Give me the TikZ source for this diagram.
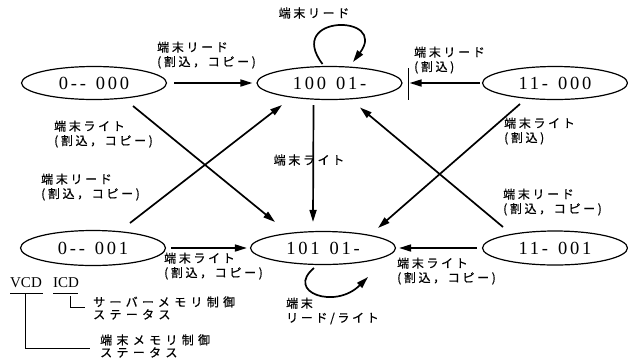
\documentclass[tikz,border=0pt]{standalone}
\usepackage{fontspec}
\setmainfont{Liberation Serif}
\newfontfamily\jpfont[LetterSpace=22,FakeBold=0.6]{Noto Sans CJK JP}
\newfontfamily\jpwfont[LetterSpace=36,FakeBold=0.6]{Noto Sans CJK JP}
\newfontfamily\numfont[LetterSpace=15]{Liberation Serif}
\usetikzlibrary{shapes.geometric,arrows.meta,calc}
\begin{document}
\begin{tikzpicture}[x=1pt,y=-1pt,
  state/.style={ellipse, draw, line width=1.2pt, minimum width=145pt, minimum height=33pt, inner sep=0pt, font=\numfont\fontsize{18.5}{18.5}\selectfont},
  arr/.style={line width=1.7pt, -{Triangle[length=12pt,width=7pt]}},
  lbl/.style={anchor=west, align=left, inner sep=0pt, font=\jpfont\fontsize{12}{14.5}\selectfont},
  legl/.style={anchor=west, align=left, inner sep=0pt, font=\jpwfont\fontsize{12}{12.5}\selectfont},
  legline/.style={line width=1pt},
  legtxt/.style={inner sep=0pt, font=\fontsize{15}{15}\selectfont}
]
\useasboundingbox (0,0) rectangle (628,360);

% states
\node[state] (A) at (94,83) {0--\hspace{10pt}000};
\node[state] (B) at (329.5,83) {100\hspace{10pt}01-};
\node[state] (C) at (555,83) {11-\hspace{10pt}000};
\node[state, minimum height=35pt] (D) at (93,248) {0--\hspace{10pt}001};
\node[state] (E) at (323,248) {101\hspace{10pt}01-};
\node[state, minimum height=34pt] (F) at (555,248) {11-\hspace{10pt}001};

% horizontal arrows
\draw[arr, shorten <=7pt, shorten >=4pt] (A.east) -- (B.west);
\draw[arr, shorten <=2pt, shorten >=7pt] (C.west) -- (B.east);
\draw[line width=1.2pt] ($(B.east)+(6,-15)$) -- ($(B.east)+(6,17)$);
\draw[arr, shorten <=5pt, shorten >=3pt] (D.east) -- (E.west);
\draw[arr, shorten <=5pt, shorten >=3pt] (F.west) -- (E.east);

% vertical arrow
\coordinate (vtop) at ($(B.south)+(-16,5)$);
\coordinate (vbot) at ($(E.north)+(-10,-9)$);
\draw[arr] (vtop) -- (vbot);

% diagonals
\draw[arr] ($(A)+(39,23)$) -- ($(E)+(-48,-26)$);
\draw[arr] ($(D)+(37,-25)$) -- ($(B)+(-47.5,22)$);
\draw[arr] ($(C)+(-35,21)$) -- ($(E)+(55,-20)$);
\draw[arr] ($(F)+(-52,-21)$) -- ($(B)+(30.5,24.5)$);

% self loops
\draw[arr] ($(B)+(-7,-19)$) .. controls +(-38,-50) and +(36,-48) .. ($(B)+(23.5,-21)$);
\draw[arr] ($(E)+(-9,20)$) .. controls +(-29,24) and +(-33,33) .. ($(E)+(45,29)$);

% labels
\node[lbl] (l1) at (157,55) {端末リード\\(割込，コピー)};
\node[lbl, anchor=center] (l2) at (314,13) {端末リード};
\node[lbl] (l3) at (414,60) {端末リード\\(割込)};
\node[lbl] (l4) at (54,134) {端末ライト\\(割込，コピー)};
\node[lbl, anchor=center] (l5) at (309,160) {端末ライト};
\node[lbl] (l6) at (504,131) {端末ライト\\(割込)};
\node[lbl] (l7) at (41,187) {端末リード\\(割込，コピー)};
\node[lbl] (l8) at (164,266) {端末ライト\\(割込，コピー)};
\node[lbl] (l9) at (503,202) {端末リード\\(割込，コピー)};
\node[lbl] (l10) at (397,271) {端末ライト\\(割込，コピー)};
\node[lbl] (l11) at (286,311) {端末\\リード/ライト};

% legend
\node[legtxt] (vcd) at (26,283) {VCD};
\node[legtxt] (icd) at (66,283) {ICD};
\draw[legline] ($(vcd)+(-16,10)$) -- ($(vcd)+(17,10)$);
\draw[legline] ($(vcd)+(-1,10)$) -- ($(vcd)+(-1,65)$) -- ($(vcd)+(64,65)$);
\draw[legline] ($(icd)+(-13,10)$) -- ($(icd)+(12,10)$);
\draw[legline] ($(icd)+(4,13)$) -- ($(icd)+(4,24)$) -- ($(icd)+(19,24)$);
\node[legl] (s1) at (93,308) {サーバーメモリ制御\\ステータス};
\node[legl] (s2) at (100,346) {端末メモリ制御\\ステータス};
\end{tikzpicture}
\end{document}
